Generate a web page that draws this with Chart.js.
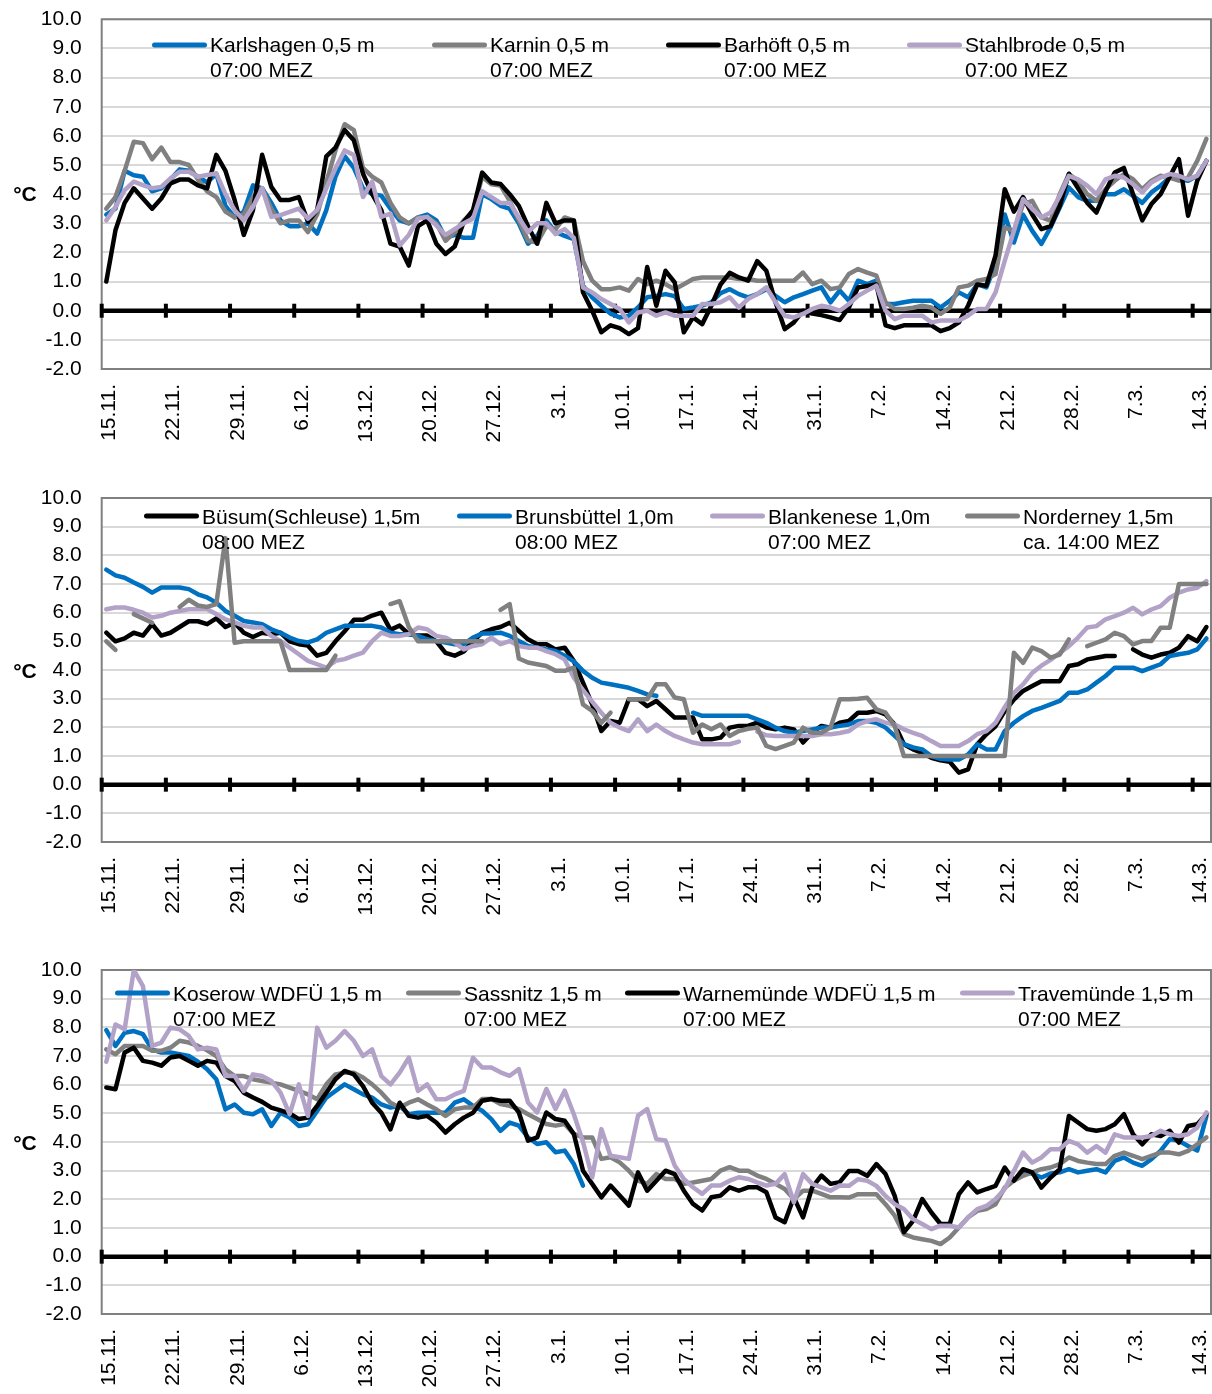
<!DOCTYPE html>
<html>
<head>
<meta charset="utf-8">
<title>Wassertemperaturen</title>
<script src="https://cdn.jsdelivr.net/npm/chart.js@4.4.1/dist/chart.umd.min.js"></script>
<style>
  html, body { margin: 0; padding: 0; background: #ffffff; }
  body { width: 1212px; height: 1394px; position: relative; overflow: hidden; }
  canvas { position: absolute; left: 0; }
</style>
</head>
<body>
<canvas id="p1" width="1212" height="470" style="top:0px"></canvas>
<canvas id="p2" width="1212" height="475" style="top:470px"></canvas>
<canvas id="p3" width="1212" height="449" style="top:945px"></canvas>
<script>
// ---- Daily categories (15.11. to 15.3.) and weekly tick labels ----
const DAY_COUNT = 121;
const DAYS = Array.from({ length: DAY_COUNT }, (_, i) => {
  const d = new Date(2022, 10, 15 + i);
  return d.getDate() + '.' + (d.getMonth() + 1) + '.';
});
const TICK_LABELS = ['15.11.', '22.11.', '29.11.', '6.12.', '13.12.', '20.12.', '27.12.', '3.1.',
  '10.1.', '17.1.', '24.1.', '31.1.', '7.2.', '14.2.', '21.2.', '28.2.', '7.3.', '14.3.'];
const Y_MIN = -2;
const Y_MAX = 10;

// ---- Ostsee, 0,5 m (°C) ----
const KARLSHAGEN = [
  3.3, 3.5, 4.8, 4.65, 4.6, 4.1, 4.2, 4.5, 4.85, 4.8,
  4.6, 4.4, 4.7, 3.6, 3.2, 3.4, 4.3, 4.2, 3.7, 3.1,
  2.9, 2.9, 3.0, 2.65, 3.45, 4.6, 5.3, 4.9, 4.2, 4.0,
  3.95, 3.5, 3.1, 3.0, 3.2, 3.3, 3.1, 2.5, 2.6, 2.5,
  2.5, 4.0, 3.83, 3.6, 3.5, 3.0, 2.3, 2.57, 3.1, 2.7,
  2.57, 2.46, 0.86, 0.46, 0.17, -0.1, -0.23, -0.17, 0.11, 0.46,
  0.51, 0.57, 0.5, 0.06, 0.11, 0.17, 0.29, 0.6, 0.74, 0.57,
  0.46, 0.57, 0.74, 0.51, 0.29, 0.46, 0.57, 0.69, 0.8, 0.29,
  0.69, 0.34, 1.03, 0.91, 1.03, 0.23, 0.23, 0.29, 0.34, 0.34,
  0.34, 0.11, 0.34, 0.63, 0.46, 0.91, 0.8, 1.6, 3.3, 2.34,
  3.3, 2.74, 2.29, 2.86, 3.54, 4.23, 3.9, 3.77, 3.77, 4.0,
  4.0, 4.17, 3.94, 3.7, 4.06, 4.29, 4.57, 4.51, 4.46, 4.63,
  5.14
];
const KARNIN = [
  3.5, 3.9, 4.8, 5.8, 5.75, 5.2, 5.6, 5.1, 5.1, 5.0,
  4.5, 4.1, 3.9, 3.4, 3.2, 3.3, 3.9, 4.2, 3.5, 3.0,
  3.1, 3.1, 2.7, 3.3, 4.4, 5.5, 6.4, 6.2, 4.9, 4.6,
  4.4, 3.7, 3.2, 3.0, 3.2, 3.2, 3.0, 2.4, 2.7, 3.1,
  3.4, 4.6, 4.34, 4.3, 3.77, 3.1, 2.4, 2.34, 2.9, 2.8,
  3.2, 3.1, 1.7, 1.03, 0.74, 0.74, 0.8, 0.69, 1.09, 0.91,
  1.03, 0.91, 0.74, 0.91, 1.09, 1.14, 1.14, 1.14, 1.14, 1.09,
  1.09, 1.03, 1.03, 1.03, 1.03, 1.03, 1.31, 0.91, 1.03, 0.74,
  0.8, 1.26, 1.43, 1.31, 1.2, 0.29, 0.06, 0.06, 0.1, 0.17,
  0.11, -0.11, 0.11, 0.8, 0.86, 1.03, 1.09, 1.26, 2.86, 2.74,
  3.65, 3.77, 3.2, 3.09, 4.0, 4.69, 4.46, 4.0, 3.77, 4.17,
  4.46, 4.69, 4.51, 4.17, 4.46, 4.63, 4.57, 4.46, 4.57, 5.14,
  5.9
];
const BARHOEFT = [
  1.0, 2.76, 3.7, 4.2, 3.85, 3.5, 3.85, 4.37, 4.5, 4.5,
  4.3, 4.2, 5.35, 4.8, 3.8, 2.6, 3.45, 5.35, 4.25, 3.8,
  3.8, 3.9, 3.05, 3.45, 5.3, 5.6, 6.2, 5.85, 4.7, 4.0,
  3.45, 2.3, 2.2, 1.55, 2.9, 3.1, 2.3, 1.95, 2.2, 3.05,
  3.45, 4.74, 4.4, 4.35, 4.0, 3.6, 2.9, 2.3, 3.7, 3.0,
  3.1, 3.1, 0.63, 0.0, -0.74, -0.5, -0.6, -0.8, -0.6, 1.5,
  0.17, 1.37, 0.97, -0.74, -0.23, -0.46, 0.17, 0.9, 1.3, 1.14,
  1.03, 1.7, 1.37, 0.29, -0.63, -0.4, 0.0, -0.1, -0.15, -0.23,
  -0.32, 0.11, 0.8, 0.85, 0.9, -0.5, -0.6, -0.5, -0.5, -0.5,
  -0.5, -0.7, -0.6, -0.4, 0.17, 0.9, 0.86, 1.9, 4.17, 3.4,
  3.9, 3.3, 2.8, 2.9, 3.6, 4.7, 4.2, 3.7, 3.37, 4.1,
  4.74, 4.9, 4.0, 3.1, 3.66, 4.0, 4.6, 5.2, 3.26, 4.46,
  5.14
];
const STAHLBRODE = [
  3.1, 3.56, 4.14, 4.43, 4.31, 4.2, 4.25, 4.54, 4.77, 4.77,
  4.6, 4.66, 4.71, 4.0, 3.45, 3.1, 3.56, 4.2, 3.22, 3.28,
  3.39, 3.5, 3.16, 3.45, 4.2, 4.89, 5.5, 5.34, 3.9, 4.43,
  3.22, 3.33, 2.24, 2.6, 3.16, 3.22, 2.93, 2.6, 2.8, 3.0,
  3.16, 4.1, 3.9, 3.7, 3.7, 3.2, 2.7, 3.0, 3.0, 2.63,
  2.8, 2.5, 0.8, 0.63, 0.4, 0.23, 0.06, -0.4, -0.06, 0.0,
  -0.17, -0.06, -0.17, -0.17, -0.17, 0.23, 0.23, 0.29, 0.46, 0.11,
  0.4, 0.57, 0.8, 0.29, -0.17, -0.23, -0.11, 0.06, 0.17, 0.11,
  0.0, 0.23, 0.51, 0.69, 0.86, 0.0, -0.29, -0.17, -0.17, -0.17,
  -0.4, -0.34, -0.34, -0.34, -0.17, 0.06, 0.06, 0.63, 1.71, 2.74,
  3.83, 3.49, 3.2, 3.37, 3.94, 4.63, 4.51, 4.29, 4.0, 4.51,
  4.63, 4.57, 4.34, 4.06, 4.4, 4.57, 4.69, 4.63, 4.51, 4.63,
  5.14
];

// ---- Nordsee / Elbe (°C) ----
const BUESUM = [
  5.3, 5.0, 5.1, 5.3, 5.2, 5.6, 5.2, 5.3, 5.5, 5.7,
  5.7, 5.6, 5.8, 5.5, 5.65, 5.3, 5.15, 5.3, 5.25, 5.3,
  5.0, 4.9, 4.85, 4.5, 4.6, 5.0, 5.35, 5.75, 5.75, 5.9,
  6.0, 5.4, 5.55, 5.25, 5.2, 5.2, 5.0, 4.6, 4.5, 4.65,
  5.0, 5.3, 5.42, 5.5, 5.65, 5.36, 5.07, 4.9, 4.9, 4.72,
  4.78, 4.31, 3.56, 2.8, 1.87, 2.22, 2.16, 2.98, 2.98, 2.74,
  2.92, 2.63, 2.34, 2.34, 2.34, 1.58, 1.58, 1.64, 1.99, 2.05,
  2.05, 2.16, 1.99, 1.93, 1.99, 1.93, 1.47, 1.81, 2.05, 1.99,
  2.16, 2.22, 2.51, 2.51, 2.57, 2.45, 2.1, 1.41, 1.23, 1.11,
  0.94, 0.85, 0.8, 0.42, 0.53, 1.41, 1.76, 2.04, 2.57, 2.97,
  3.27, 3.44, 3.61, 3.61, 3.61, 4.14, 4.2, 4.37, 4.43, 4.49,
  4.49, null, 4.72, 4.54, 4.43, 4.54, 4.6, 4.78, 5.18, 5.0,
  5.5
];
const BRUNSBUETTEL = [
  7.5, 7.3, 7.22, 7.05, 6.9, 6.7, 6.88, 6.88, 6.88, 6.82,
  6.64, 6.53, 6.35, 6.06, 5.89, 5.71, 5.66, 5.6, 5.42, 5.3,
  5.13, 5.01, 4.96, 5.07, 5.3, 5.42, 5.54, 5.54, 5.54, 5.54,
  5.48, 5.3, 5.25, 5.25, 5.19, 5.07, 5.01, 4.96, 4.9, 4.9,
  5.13, 5.27, 5.27, 5.3, 5.19, 5.01, 4.84, 4.78, 4.72, 4.66,
  4.5, 4.3, 3.97, 3.73, 3.56, 3.5, 3.44, 3.38, 3.27, 3.15,
  3.1, null, null, null, 2.51, 2.4, 2.4, 2.4, 2.4, 2.4,
  2.4, 2.28, 2.16, 1.99, 1.87, 1.81, 1.87, 1.93, 1.99, 1.99,
  2.05, 2.1, 2.22, 2.22, 2.16, 1.99, 1.7, 1.41, 1.3, 1.23,
  1.0, 0.9, 0.88, 0.88, 1.05, 1.41, 1.23, 1.23, 1.87, 2.16,
  2.39, 2.57, 2.68, 2.8, 2.92, 3.21, 3.21, 3.32, 3.56, 3.79,
  4.08, 4.08, 4.08, 3.96, 4.08, 4.2, 4.49, 4.55, 4.6, 4.72,
  5.1
];
const BLANKENESE = [
  6.12, 6.18, 6.18, 6.1, 6.0, 5.83, 5.89, 6.0, 6.06, 6.12,
  6.12, 6.12, 5.95, 5.77, 5.66, 5.54, 5.48, 5.48, 5.19, 5.01,
  4.78, 4.55, 4.32, 4.2, 4.08, 4.32, 4.38, 4.5, 4.61, 5.01,
  5.3, 5.19, 5.19, 5.25, 5.48, 5.42, 5.19, 5.13, 4.96, 4.72,
  4.84, 4.9, 5.13, 4.9, 5.01, 4.84, 4.78, 4.78, 4.66, 4.55,
  4.37, 3.73, 3.3, 2.9, 2.51, 2.16, 1.99, 1.87, 2.28, 1.87,
  2.1, 1.87, 1.7, 1.58, 1.47, 1.41, 1.41, 1.41, 1.41, 1.5,
  null, 1.85, 1.72, 1.7, 1.7, 1.7, 1.7, 1.7, 1.76, 1.76,
  1.8, 1.87, 2.1, 2.22, 2.28, 2.16, 2.1, 1.93, 1.81, 1.7,
  1.52, 1.35, 1.35, 1.35, 1.52, 1.76, 1.87, 2.16, 2.7, 3.2,
  3.5, 3.9, 4.15, 4.35, 4.6, 4.83, 5.13, 5.48, 5.53, 5.77,
  5.88, 6.0, 6.17, 5.94, 6.11, 6.23, 6.52, 6.7, 6.81, 6.87,
  7.1
];
const NORDERNEY = [
  5.0, 4.7, null, 5.95, 5.8, 5.65, null, null, 6.2, 6.45,
  6.25, 6.2, 6.3, 8.6, 4.95, 5.0, 5.0, 5.0, 5.0, 5.0,
  4.0, 4.0, 4.0, 4.0, 4.0, 4.5, null, null, null, null,
  null, 6.3, 6.4, 5.5, 5.0, 5.0, 5.0, 5.0, 5.0, 5.0,
  5.0, 5.0, null, 6.1, 6.3, 4.4, 4.26, 4.2, 4.14, 3.97,
  3.97, 4.08, 2.8, 2.57, 2.16, 2.51, null, 2.98, 2.98, 2.98,
  3.5, 3.5, 3.04, 2.98, 1.81, 2.1, 1.93, 2.1, 1.7, 1.87,
  1.95, 1.99, 1.35, 1.24, 1.35, 1.47, 1.99, 1.81, 1.81, 1.99,
  2.98, 2.98, 3.0, 3.03, 2.63, 2.51, 2.04, 1.0, 1.0, 1.0,
  1.0, 1.0, 1.0, 1.0, 1.0, 1.0, 1.0, 1.0, 1.0, 4.6,
  4.25, 4.78, 4.66, 4.43, 4.54, 5.07, null, 4.83, 4.95, 5.07,
  5.3, 5.18, 4.89, 5.01, 5.01, 5.47, 5.47, 7.0, 7.0, 7.0,
  7.0
];

// ---- Ostsee, 1,5 m (°C) ----
const KOSEROW = [
  7.9, 7.35, 7.81, 7.87, 7.76, 7.23, 7.12, 7.12, 7.06, 7.0,
  6.8, 6.54, 6.19, 5.14, 5.31, 5.02, 4.97, 5.14, 4.56, 5.02,
  4.85, 4.56, 4.62, 5.08, 5.55, 5.78, 6.01, 5.84, 5.66, 5.55,
  5.31, 5.2, 5.26, 4.97, 5.02, 5.02, 5.02, 5.02, 5.37, 5.49,
  5.26, 5.09, 4.8, 4.39, 4.68, 4.57, 4.16, 3.93, 3.99, 3.64,
  3.7, 3.23, 2.48, null, null, null, null, null, null, null,
  null, null, null, null, null, null, null, null, null, null,
  null, null, null, null, null, null, null, null, null, null,
  null, null, null, null, null, null, null, null, null, null,
  null, null, null, null, null, null, null, null, null, null,
  2.95, 2.9, 2.76, 2.9, 2.94, 3.05, 2.94, 3.0, 3.05, 2.94,
  3.34, 3.46, 3.28, 3.17, 3.4, 3.69, 4.1, 4.04, 3.86, 3.7,
  4.9
];
const SASSNITZ = [
  7.23, 7.06, 7.35, 7.35, 7.35, 7.18, 7.18, 7.29, 7.53, 7.47,
  7.35, 7.2, 7.0, 6.54, 6.3, 6.3, 6.19, 6.13, 6.07, 6.01,
  5.9, 5.78, 5.66, 5.49, 6.01, 6.36, 6.42, 6.42, 6.25, 6.01,
  5.72, 5.37, 5.2, 5.37, 5.49, 5.31, 5.14, 4.91, 5.14, 5.2,
  5.2, 5.5, 5.5, 5.32, 5.26, 5.15, 4.97, 4.8, 4.63, 4.57,
  4.63, 4.28, 4.16, 4.16, 3.41, 3.47, 3.29, 3.0, 2.65, 2.54,
  2.88, 2.71, 2.71, 2.54, 2.59, 2.65, 2.71, 3.0, 3.12, 3.0,
  3.0, 2.83, 2.71, 2.54, 2.36, 2.01, 2.3, 2.3, 2.19, 2.07,
  2.07, 2.06, 2.18, 2.18, 2.18, 1.83, 1.43, 0.79, 0.67, 0.61,
  0.55, 0.44, 0.67, 1.02, 1.37, 1.6, 1.66, 1.83, 2.41, 2.65,
  2.82, 2.94, 3.05, 3.11, 3.23, 3.46, 3.34, 3.28, 3.23, 3.23,
  3.52, 3.63, 3.52, 3.4, 3.52, 3.63, 3.63, 3.57, 3.69, 3.92,
  4.16
];
const WARNEMUENDE = [
  5.9, 5.84, 7.12, 7.29, 6.83, 6.77, 6.66, 6.95, 7.0, 6.83,
  6.66, 6.83, 6.77, 6.3, 6.13, 5.72, 5.55, 5.4, 5.2, 5.1,
  5.0, 4.8, 4.85, 5.26, 5.72, 6.19, 6.48, 6.36, 5.95, 5.37,
  5.02, 4.44, 5.37, 4.91, 4.85, 4.91, 4.68, 4.33, 4.62, 4.85,
  5.02, 5.44, 5.5, 5.44, 5.44, 5.03, 4.05, 4.16, 5.03, 4.8,
  4.74, 4.28, 3.0, 2.54, 2.07, 2.48, 2.13, 1.78, 2.94, 2.3,
  2.65, 3.0, 2.88, 2.3, 1.84, 1.61, 2.07, 2.13, 2.42, 2.3,
  2.42, 2.42, 2.25, 1.37, 1.2, 2.07, 1.37, 2.42, 2.83, 2.54,
  2.6, 2.99, 2.99, 2.82, 3.23, 2.88, 2.12, 0.85, 1.25, 2.01,
  1.54, 1.14, 1.14, 2.18, 2.59, 2.24, 2.36, 2.47, 3.11, 2.65,
  3.05, 2.94, 2.41, 2.76, 3.05, 4.91, 4.68, 4.45, 4.39, 4.45,
  4.62, 4.97, 4.27, 3.92, 4.27, 4.21, 4.39, 3.98, 4.56, 4.62,
  4.97
];
const TRAVEMUENDE = [
  6.8, 8.1, 7.93, 10.0, 9.44, 7.35, 7.47, 7.99, 7.93, 7.7,
  7.23, 7.29, 7.23, 6.3, 6.3, 5.78, 6.36, 6.3, 6.13, 5.72,
  4.97, 6.01, 4.91, 7.99, 7.29, 7.53, 7.87, 7.53, 7.0, 7.23,
  6.3, 6.01, 6.42, 6.94, 5.78, 6.01, 5.49, 5.49, 5.66, 5.78,
  6.94, 6.6, 6.6, 6.43, 6.31, 6.54, 5.38, 5.03, 5.85, 5.15,
  5.79, 4.97, 4.0, 2.77, 4.45, 3.52, 3.47, 3.41, 4.92, 5.15,
  4.1, 4.05, 3.18, 2.71, 2.42, 2.19, 2.48, 2.48, 2.65, 2.77,
  2.71, 2.59, 2.48, 2.54, 2.88, 1.9, 2.88, 2.54, 2.42, 2.3,
  2.48, 2.47, 2.7, 2.65, 2.47, 2.12, 1.83, 1.66, 1.31, 1.14,
  0.96, 1.08, 1.08, 1.02, 1.37, 1.66, 1.77, 2.01, 2.36, 2.99,
  3.63, 3.28, 3.46, 3.75, 3.75, 4.04, 3.92, 3.63, 3.86, 3.63,
  4.27, 4.16, 4.16, 4.16, 4.21, 4.39, 4.27, 4.21, 4.27, 4.5,
  5.03
];

// ---- Styling ----
const FONT_FAMILY = "'Liberation Sans', Arial, Helvetica, sans-serif";
const FONT_SIZE = 21;
const BLUE = '#0070C0';
const GREY = '#808080';
const BLACK = '#000000';
const LILAC = '#B3A2C7';
const PLOT_LEFT = 101.7;

Chart.defaults.font.family = FONT_FAMILY;
Chart.defaults.font.size = FONT_SIZE;
Chart.defaults.color = '#000000';

const PANELS = [
  {
    canvas: 'p1', padTop: 19.3, padBottom: 101, legendLineY: 45, legendTextY: 44, unitY: 193,
    series: [
      { name: 'Karlshagen 0,5 m', time: '07:00 MEZ', data: KARLSHAGEN, color: BLUE, legendX: 152 },
      { name: 'Karnin 0,5 m', time: '07:00 MEZ', data: KARNIN, color: GREY, legendX: 432 },
      { name: 'Barhöft 0,5 m', time: '07:00 MEZ', data: BARHOEFT, color: BLACK, legendX: 666 },
      { name: 'Stahlbrode 0,5 m', time: '07:00 MEZ', data: STAHLBRODE, color: LILAC, legendX: 907 }
    ]
  },
  {
    canvas: 'p2', padTop: 28, padBottom: 103, legendLineY: 46, legendTextY: 46, unitY: 200,
    series: [
      { name: 'Büsum(Schleuse) 1,5m', time: '08:00 MEZ', data: BUESUM, color: BLACK, legendX: 144 },
      { name: 'Brunsbüttel 1,0m', time: '08:00 MEZ', data: BRUNSBUETTEL, color: BLUE, legendX: 457 },
      { name: 'Blankenese 1,0m', time: '07:00 MEZ', data: BLANKENESE, color: LILAC, legendX: 710 },
      { name: 'Norderney 1,5m', time: 'ca. 14:00 MEZ', data: NORDERNEY, color: GREY, legendX: 965 }
    ]
  },
  {
    canvas: 'p3', padTop: 25, padBottom: 80, legendLineY: 48, legendTextY: 48, unitY: 197,
    series: [
      { name: 'Koserow WDFÜ 1,5 m', time: '07:00 MEZ', data: KOSEROW, color: BLUE, legendX: 115 },
      { name: 'Sassnitz 1,5 m', time: '07:00 MEZ', data: SASSNITZ, color: GREY, legendX: 406 },
      { name: 'Warnemünde WDFÜ 1,5 m', time: '07:00 MEZ', data: WARNEMUENDE, color: BLACK, legendX: 625 },
      { name: 'Travemünde 1,5 m', time: '07:00 MEZ', data: TRAVEMUENDE, color: LILAC, legendX: 960 }
    ]
  }
];

// Plot frame, zero axis with weekly tick marks, inside legend, rotated date labels, unit.
const panelDecor = {
  id: 'panelDecor',
  beforeDatasetsDraw(chart, args, opts) {
    const { ctx, chartArea: a, scales: { x, y } } = chart;
    ctx.save();
    ctx.strokeStyle = '#808080';
    ctx.lineWidth = 2;
    ctx.strokeRect(a.left, a.top, a.right - a.left, a.bottom - a.top);

    const y0 = y.getPixelForValue(0);
    ctx.strokeStyle = '#000000';
    ctx.lineWidth = 4.5;
    ctx.beginPath();
    ctx.moveTo(a.left, y0);
    ctx.lineTo(a.right, y0);
    ctx.stroke();

    const half = (x.getPixelForValue(1) - x.getPixelForValue(0)) / 2;
    ctx.lineWidth = 4;
    TICK_LABELS.forEach((_, k) => {
      const xt = x.getPixelForValue(7 * k) - half;
      ctx.beginPath();
      ctx.moveTo(xt, y0 - 7);
      ctx.lineTo(xt, y0 + 7);
      ctx.stroke();
    });
    ctx.restore();
  },
  afterDatasetsDraw(chart, args, opts) {
    const { ctx } = chart;
    const p = opts.panel;
    ctx.save();
    ctx.font = FONT_SIZE + 'px ' + FONT_FAMILY;
    ctx.textAlign = 'left';
    ctx.textBaseline = 'alphabetic';
    p.series.forEach(s => {
      ctx.strokeStyle = s.color;
      ctx.lineWidth = 5;
      ctx.lineCap = 'round';
      ctx.beginPath();
      ctx.moveTo(s.legendX + 2.5, p.legendLineY);
      ctx.lineTo(s.legendX + 52.5, p.legendLineY);
      ctx.stroke();
      ctx.fillStyle = '#000000';
      ctx.fillText(s.name, s.legendX + 58, p.legendTextY + 7.5);
      ctx.fillText(s.time, s.legendX + 58, p.legendTextY + 32.5);
    });
    ctx.restore();
  },
  afterDraw(chart, args, opts) {
    const { ctx, chartArea: a, scales: { x } } = chart;
    const p = opts.panel;
    ctx.save();
    ctx.fillStyle = '#000000';
    ctx.font = FONT_SIZE + 'px ' + FONT_FAMILY;
    ctx.textAlign = 'right';
    ctx.textBaseline = 'alphabetic';
    TICK_LABELS.forEach((lab, k) => {
      const cx = x.getPixelForValue(7 * k);
      ctx.save();
      ctx.translate(cx + 9, a.bottom + 15);
      ctx.rotate(-Math.PI / 2);
      ctx.fillText(lab, 0, 0);
      ctx.restore();
    });
    ctx.font = 'bold ' + FONT_SIZE + 'px ' + FONT_FAMILY;
    ctx.textAlign = 'center';
    ctx.fillText('°C', 25, p.unitY + 7.5);
    ctx.restore();
  }
};

PANELS.forEach(p => {
  const n = p.series.length;
  new Chart(document.getElementById(p.canvas), {
    type: 'line',
    data: {
      labels: DAYS,
      datasets: p.series.map((s, i) => ({
        label: s.name,
        data: s.data,
        borderColor: s.color,
        backgroundColor: s.color,
        borderWidth: 4.5,
        pointRadius: 0,
        pointHoverRadius: 0,
        tension: 0,
        spanGaps: false,
        fill: false,
        borderJoinStyle: 'round',
        borderCapStyle: 'round',
        order: n - i
      }))
    },
    options: {
      responsive: false,
      animation: false,
      devicePixelRatio: 1,
      events: [],
      layout: { padding: { top: p.padTop, bottom: p.padBottom, left: 0, right: 1 } },
      plugins: {
        legend: { display: false },
        tooltip: { enabled: false },
        title: { display: false },
        panelDecor: { panel: p }
      },
      scales: {
        x: {
          type: 'category',
          offset: true,
          display: false,
          grid: { display: false }
        },
        y: {
          min: Y_MIN,
          max: Y_MAX,
          ticks: {
            stepSize: 1,
            padding: 20,
            color: '#000000',
            font: { size: FONT_SIZE, family: FONT_FAMILY },
            callback: v => Number(v).toFixed(1)
          },
          grid: { color: '#D9D9D9', lineWidth: 2, drawTicks: false },
          border: { display: false },
          afterFit: s => { s.width = PLOT_LEFT; s.paddingTop = 0; s.paddingBottom = 0; }
        }
      }
    },
    plugins: [panelDecor]
  });
});
</script>
</body>
</html>
